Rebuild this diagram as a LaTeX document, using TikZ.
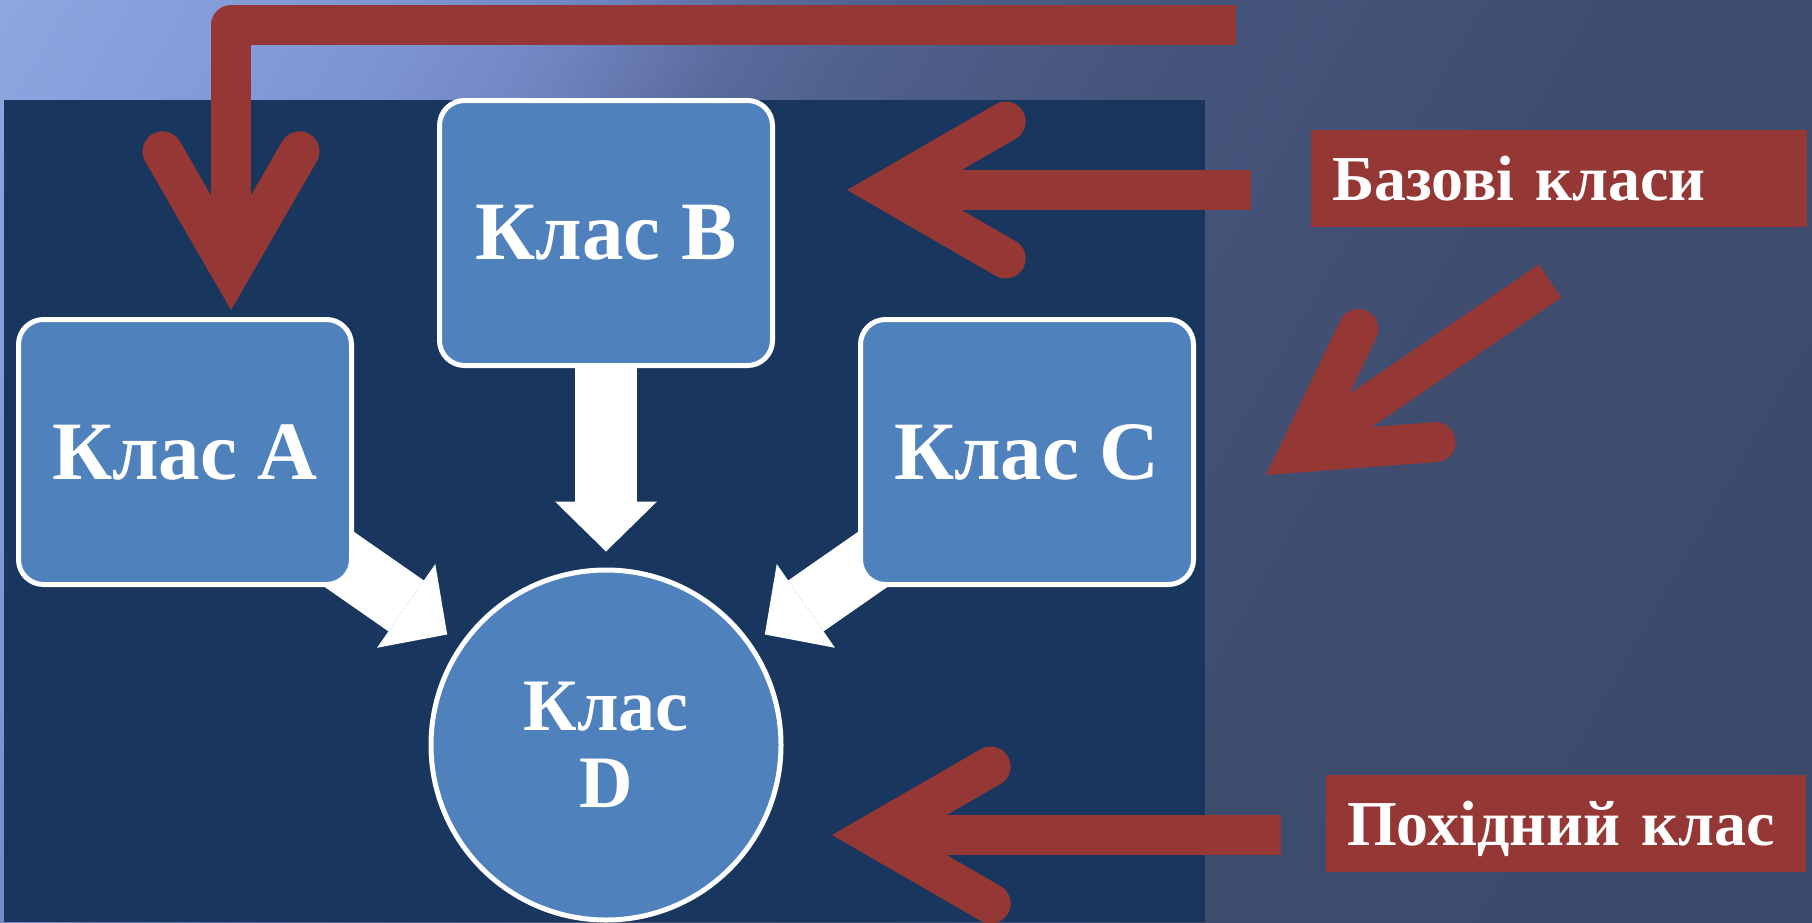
\documentclass[tikz,border=0pt]{standalone}
\usepackage{fontspec}
\setmainfont{Liberation Serif}
\usetikzlibrary{arrows.meta,calc}

\definecolor{bgA}{RGB}{140,166,224}
\definecolor{bgB}{RGB}{125,148,210}
\definecolor{bgC}{RGB}{112,132,192}
\definecolor{bgD}{RGB}{90,106,156}
\definecolor{bgE}{RGB}{80,96,140}
\definecolor{bgF}{RGB}{70,85,124}
\definecolor{bgG}{RGB}{62,76,110}
\definecolor{bgH}{RGB}{59,73,106}
\definecolor{panel}{RGB}{24,54,94}
\definecolor{boxblue}{RGB}{79,129,189}
\definecolor{callred}{RGB}{149,55,53}

\pgfdeclarehorizontalshading{bgshade}{100bp}{color(0bp)=(bgA); color(16bp)=(bgA); color(28bp)=(bgB); color(33bp)=(bgC); color(38bp)=(bgD); color(42bp)=(bgE); color(50bp)=(bgF); color(65bp)=(bgG); color(84bp)=(bgH); color(100bp)=(bgH)}

\pgfdeclarelayer{back}
\pgfsetlayers{back,main}

\tikzset{
  classbox/.style={draw=white, line width=5pt, fill=boxblue, rounded corners=25pt,
    minimum width=333pt, minimum height=265pt, text=white,
    font=\bfseries\fontsize{83}{90}\selectfont},
  classcirc/.style={circle, draw=white, line width=5pt, fill=boxblue, minimum size=350pt,
    text=white, align=center, font=\bfseries\fontsize{74}{77}\selectfont},
  callout/.style={fill=callred, text=white, align=left, inner xsep=21pt,
    minimum height=97pt, text depth=0pt, font=\bfseries\fontsize{64}{70}\selectfont},
  inherit/.style={white, line width=62pt, shorten >=16pt,
    -{Triangle[width=102pt, length=50pt, line width=0pt]}},
  redline/.style={callred, line width=40pt, line join=round},
  redhead/.style={callred, line width=40pt, line cap=round, line join=miter}
}

\begin{document}
\begin{tikzpicture}[x=1pt, y=-1pt]
  \useasboundingbox (0,0) rectangle (1812,922);
  % classes
  \node[classbox] (A) at (185,452) {Клас A};
  \node[classbox] (B) at (606,233) {Клас B};
  \node[classbox] (C) at (1027,452) {Клас C};
  \node[classcirc] (D) at (606,745) {Клас\\D};
  % captions
  \node[callout, text width=454pt] (base) at (1559,178.5) {Базові класи};
  \node[callout, text width=438pt] (derived) at (1566,823.5) {Похідний клас};

  \begin{pgfonlayer}{back}
    \shade[shading=bgshade, shading angle=-30] (0,0) rectangle (1812,922);
    \fill[panel] (4,100) rectangle (1205,922);
    \foreach \n in {A,B,C} \draw[inherit] (\n.center) -- (D);
  \end{pgfonlayer}

  % red pointers
  \coordinate (tailA) at (1236,25);
  \coordinate (bendA) at (231,25);
  \coordinate (tipA) at (231,310);
  \coordinate (tailB) at (1251,190);
  \coordinate (tipB) at (847,190);
  \coordinate (tailC) at (1550,281);
  \coordinate (tipC) at (1266,475);
  \coordinate (tailD) at (1281,835);
  \coordinate (tipD) at (832,835);
  \foreach \t/\s in {tipA/bendA,tipB/tailB,tipC/tailC,tipD/tailD}{
    \coordinate (v\t) at ($(\t)!40pt!(\s)$);
    \draw[redhead] ($(v\t)!137pt!30:(\s)$) -- (v\t) -- ($(v\t)!137pt!-30:(\s)$);
  }
  \draw[redline] (tailA) -| (vtipA);
  \draw[redline] (tailB) -- (vtipB);
  \draw[redline] (tailC) -- (vtipC);
  \draw[redline] (tailD) -- (vtipD);
\end{tikzpicture}
\end{document}
